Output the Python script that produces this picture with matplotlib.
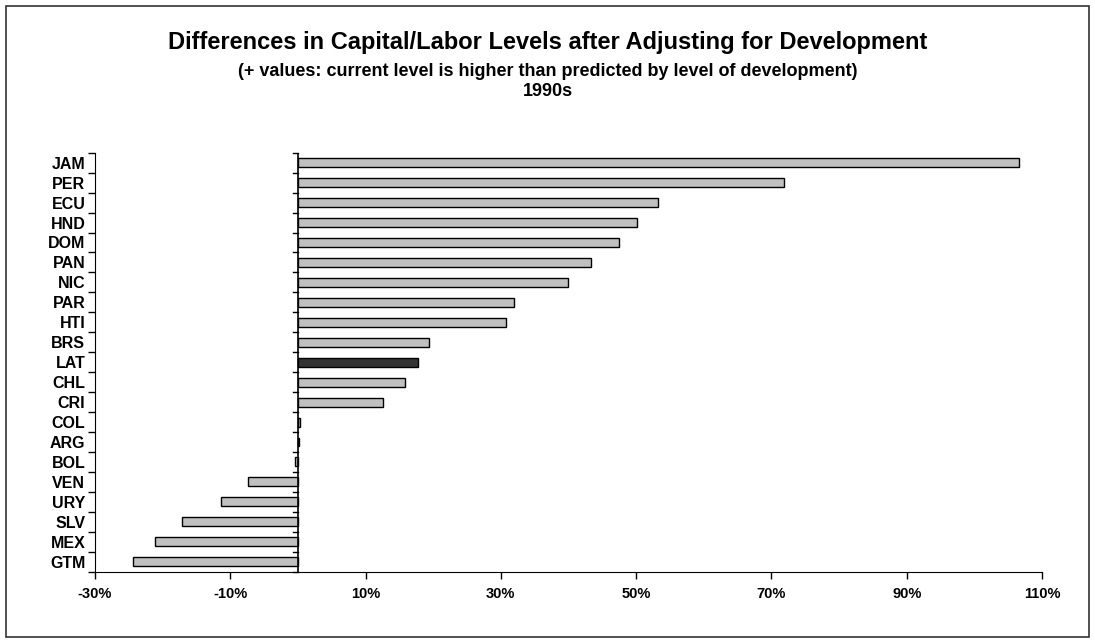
import matplotlib
matplotlib.use("Agg")
import matplotlib.pyplot as plt
from matplotlib.patches import Rectangle
from matplotlib.ticker import FixedLocator
import numpy as np

plt.rcParams['font.family'] = ['Liberation Sans', 'DejaVu Sans']

# data, top to bottom
countries = ['JAM', 'PER', 'ECU', 'HND', 'DOM', 'PAN', 'NIC', 'PAR', 'HTI', 'BRS', 'LAT',
             'CHL', 'CRI', 'COL', 'ARG', 'BOL', 'VEN', 'URY', 'SLV', 'MEX', 'GTM']
values = [106.6, 71.9, 53.3, 50.1, 47.5, 43.3, 39.9, 32.0, 30.7, 19.4, 17.8,
          15.8, 12.6, 0.25, 0.1, -0.4, -7.4, -11.3, -17.2, -21.2, -24.4]
xticks = [-30, -10, 10, 30, 50, 70, 90, 110]

fig = plt.figure(figsize=(10.95, 6.44), dpi=100)
ax = fig.add_axes([95 / 1095, 1 - 571.7 / 644, (1042 - 95) / 1095, (571.7 - 152.7) / 644])

n = len(countries)
y = np.arange(n)[::-1]
colors = ['#333333' if c == 'LAT' else '#C0C0C0' for c in countries]
ax.barh(y, values, height=0.45, color=colors, edgecolor='black', linewidth=1.0, zorder=3)

ax.set_xlim(-30, 110)
ax.set_ylim(-0.5, n - 0.5)
ax.set_xticks(xticks)
ax.set_xticklabels([f'{t}%' for t in xticks], fontsize=10.5, fontweight='bold')
ax.tick_params(axis='x', length=5, width=1, pad=6)

# category ticks at boundaries, labels at centers
ax.yaxis.set_major_locator(FixedLocator(np.arange(n + 1) - 0.5))
ax.set_yticklabels([])
ax.set_yticks(y, minor=True)
ax.set_yticklabels(countries, minor=True, fontsize=11.5, fontweight='bold')
ax.tick_params(axis='y', which='major', length=5, width=1)
ax.tick_params(axis='y', which='minor', length=0, pad=7)

ax.spines['top'].set_visible(False)
ax.spines['right'].set_visible(False)

# zero line with its own boundary ticks
ax.axvline(0, color='black', linewidth=1.2, zorder=4)
for b in np.arange(n + 1) - 0.5:
    ax.plot([-0.8, 0], [b, b], color='black', linewidth=1, zorder=4, clip_on=False)

fig.text(0.5, 1 - 42 / 644, 'Differences in Capital/Labor Levels after Adjusting for Development',
         ha='center', va='center', fontsize=17, fontweight='bold')
fig.text(0.5, 1 - 71 / 644, '(+ values: current level is higher than predicted by level of development)',
         ha='center', va='center', fontsize=13, fontweight='bold')
fig.text(0.5, 1 - 92 / 644, '1990s', ha='center', va='center', fontsize=13, fontweight='bold')

fig.patches.append(Rectangle((6 / 1095, 1 - 637 / 644), 1083 / 1095, 631 / 644,
                             transform=fig.transFigure, fill=False, edgecolor='#333333', linewidth=1.2))

fig.savefig('out.png', dpi=100)
